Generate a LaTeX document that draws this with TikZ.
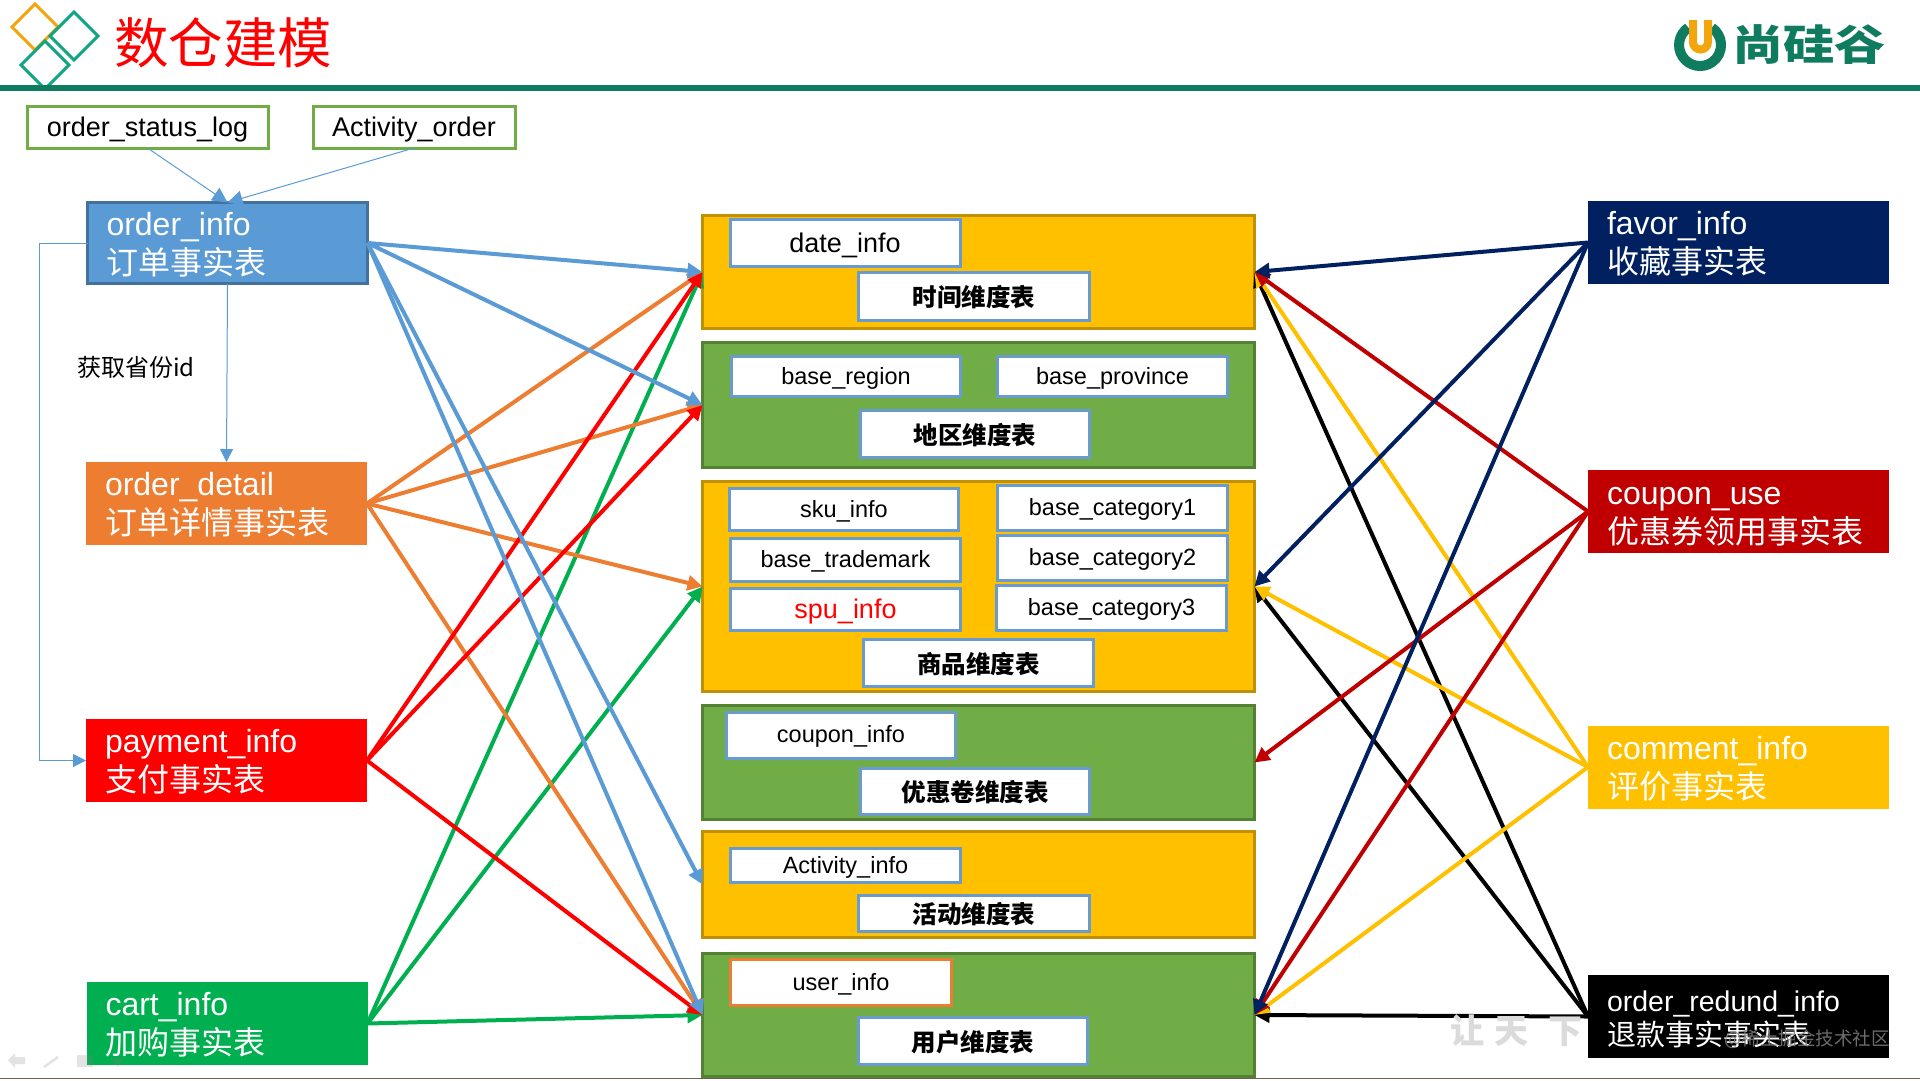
\documentclass[tikz,border=0pt]{standalone}
\usepackage{fontspec}
\setmainfont{Liberation Sans}
\newfontfamily\cjk{Noto Sans CJK SC}
\usetikzlibrary{arrows.meta}
\newcommand\toprule{\rule{0pt}{26pt}}
\definecolor{cTeal}{HTML}{0F7B5F}
\definecolor{cDia}{HTML}{13A583}
\definecolor{cOrg}{HTML}{F2A50C}
\definecolor{cBlue}{HTML}{5B9BD5}
\definecolor{cBlueD}{HTML}{41719C}
\definecolor{cOrange}{HTML}{ED7D31}
\definecolor{cRed}{HTML}{FF0000}
\definecolor{cGreen}{HTML}{00B050}
\definecolor{cNavy}{HTML}{002060}
\definecolor{cDRed}{HTML}{C00000}
\definecolor{cYel}{HTML}{FFC000}
\definecolor{cYelD}{HTML}{BF9000}
\definecolor{cLeaf}{HTML}{70AD47}
\definecolor{cLeafD}{HTML}{548235}
\definecolor{cBox}{HTML}{6A9BCF}
\tikzset{
  fact/.style={rectangle,outer sep=0pt,inner ysep=0pt,inner xsep=19pt,align=left,text=white,font=\fontsize{32}{39}\selectfont},
  yelgroup/.style={rectangle,outer sep=0pt,fill=cYel,draw=cYelD,line width=3pt},
  leafgroup/.style={rectangle,outer sep=0pt,fill=cLeaf,draw=cLeafD,line width=3pt},
  tbl/.style={rectangle,outer sep=0pt,inner sep=0pt,fill=white,draw=cBox,line width=3pt,text height=17pt,text depth=1.5pt,font=\fontsize{23.5}{27}\selectfont},
  bigtbl/.style={tbl,text height=20pt,text depth=2pt,font=\fontsize{27}{31}\selectfont},
  dimlabel/.style={rectangle,outer sep=0pt,inner sep=0pt,fill=white,draw=cBox,line width=3pt,text height=22pt,text depth=1.2pt,font=\cjk\bfseries\fontsize{24.5}{28}\selectfont},
  srcbox/.style={rectangle,outer sep=0pt,inner sep=0pt,fill=white,draw=cLeaf,line width=3pt,text height=20.5pt,text depth=1.2pt,font=\fontsize{27}{31}\selectfont},
  link/.style={line width=4pt,-{Triangle[length=15pt,width=15pt]}},
  thinlink/.style={line width=1pt,draw=cBlue,-{Triangle[length=15pt,width=15pt]}},
  dia/.style={line width=3pt,line join=miter},
}
\begin{document}
\begin{tikzpicture}[x=1pt,y=-1pt]
\useasboundingbox (0,0) rectangle (1920,1080);
\fill[white] (0,0) rectangle (1920,1080);

% header
\draw[dia,cOrg] (35,4) -- (58,27) -- (35,50) -- (12,27) -- cycle;
\draw[dia,cDia] (74,12) -- (98,36) -- (74,60) -- (50,36) -- cycle;
\draw[dia,cDia] (45,41) -- (69,65) -- (45,89) -- (21,65) -- cycle;
\fill[cTeal] (0,84.5) rectangle (1920,91);
\node[inner sep=0pt,text=cRed,font=\cjk\fontsize{54.5}{60}\selectfont] (title) at (223,43) {数仓建模};
\draw[cTeal,line width=10pt] (1688.3,27.6) arc[start angle=236,end angle=-56,radius=21];
\draw[cOrg,line width=8pt] (1693,20) -- (1693,42) arc[start angle=180,end angle=0,radius=7.5] -- (1708,20);
\node[inner sep=0pt,text=cTeal,xscale=1.22,font=\cjk\bfseries\fontsize{42}{48}\selectfont] (brand) at (1809,45) {尚硅谷};

% source tables
\node[srcbox,minimum width=241pt,minimum height=42pt] (slog) at (147.5,127) {order\_status\_log};
\node[srcbox,minimum width=202pt,minimum height=42pt] (aorder) at (414,127) {Activity\_order};

% fact tables left
\node[fact,fill=cBlue,draw=cBlueD,line width=3pt,minimum height=81pt,text width=242pt] (oinfo) at (227.5,243) {\toprule order\_info\\{\cjk 订单事实表}};
\node[fact,fill=cOrange,minimum height=83pt,text width=243pt] (odetail) at (226.5,503.5) {\toprule order\_detail\\{\cjk 订单详情事实表}};
\node[fact,fill=cRed,minimum height=83pt,text width=243pt] (pay) at (226.5,760.5) {\toprule payment\_info\\{\cjk 支付事实表}};
\node[fact,fill=cGreen,minimum height=83pt,text width=243pt] (cart) at (227,1023.5) {\toprule cart\_info\\{\cjk 加购事实表}};

% fact tables right
\node[fact,fill=cNavy,minimum height=83pt,text width=263pt] (favor) at (1738.5,242.5) {\toprule favor\_info\\{\cjk 收藏事实表}};
\node[fact,fill=cDRed,minimum height=83pt,text width=263pt] (coupon) at (1738.5,511.5) {\rule{0pt}{28pt}coupon\_use\\{\cjk 优惠券领用事实表}};
\node[fact,fill=cYel,minimum height=83pt,text width=263pt] (comment) at (1738.5,767) {\toprule comment\_info\\{\cjk 评价事实表}};
\node[fact,fill=black,minimum height=83pt,text width=263pt] (redund) at (1738.5,1016.5) {\toprule{\fontsize{28.5}{39}\selectfont order\_redund\_info}\\[-5pt]{\cjk\fontsize{29}{34}\selectfont 退款事实事实表}};

% dimension groups
\node[yelgroup,minimum width=552pt,minimum height=113pt] (g1) at (978.5,272) {};
\node[leafgroup,minimum width=552pt,minimum height=125pt] (g2) at (978.5,405) {};
\node[yelgroup,minimum width=552pt,minimum height=210pt] (g3) at (978.5,586.5) {};
\node[leafgroup,minimum width=552pt,minimum height=114pt] (g4) at (978.5,762.5) {};
\node[yelgroup,minimum width=552pt,minimum height=106pt] (g5) at (978.5,884.5) {};
\node[leafgroup,minimum width=552pt,minimum height=123pt] (g6) at (978.5,1015) {};

% tables within groups
\node[bigtbl,minimum width=230pt,minimum height=47pt] (dateinfo) at (845,243) {date\_info};
\node[dimlabel,minimum width=231pt,minimum height=48pt] (l1) at (974,296.5) {时间维度表};
\node[tbl,minimum width=229pt,minimum height=40pt] (bregion) at (846,376.5) {base\_region};
\node[tbl,minimum width=230pt,minimum height=40pt] (bprov) at (1112.5,376.5) {base\_province};
\node[dimlabel,minimum width=229pt,minimum height=47pt] (l2) at (975,434) {地区维度表};
\node[tbl,minimum width=229pt,minimum height=42pt] (sku) at (844,509.5) {sku\_info};
\node[tbl,minimum width=230pt,minimum height=43pt] (btm) at (845.5,560) {base\_trademark};
\node[bigtbl,text=cRed,minimum width=230pt,minimum height=42pt] (spu) at (845.5,609.5) {spu\_info};
\node[tbl,minimum width=230pt,minimum height=45pt] (cat1) at (1112.5,508) {base\_category1};
\node[tbl,minimum width=230pt,minimum height=45pt] (cat2) at (1112.5,558) {base\_category2};
\node[tbl,minimum width=230pt,minimum height=45pt] (cat3) at (1111.5,608) {base\_category3};
\node[dimlabel,minimum width=230pt,minimum height=47pt] (l3) at (978.5,663) {商品维度表};
\node[tbl,minimum width=229pt,minimum height=46pt] (cinfo) at (841,735) {coupon\_info};
\node[dimlabel,minimum width=229pt,minimum height=46pt] (l4) at (975,791.5) {优惠卷维度表};
\node[tbl,minimum width=230pt,minimum height=34pt] (ainfo) at (845.5,865.5) {Activity\_info};
\node[dimlabel,minimum width=231pt,minimum height=36pt] (l5) at (974,913.5) {活动维度表};
\node[tbl,draw=cOrange,minimum width=221pt,minimum height=46pt] (uinfo) at (841,982.5) {user\_info};
\node[dimlabel,minimum width=229pt,minimum height=47pt] (l6) at (973,1041) {用户维度表};

% thin connectors
\coordinate (lft) at (39,243);
\draw[thinlink] (slog.south) -- (oinfo.north);
\draw[thinlink] (aorder.south) -- (oinfo.north);
\draw[thinlink,-{Triangle[length=13pt,width=13pt]}] (oinfo.south) -- (odetail.north);
\draw[thinlink,-{Triangle[length=13pt,width=13pt]}] (oinfo.west) -- (lft) |- (pay.west);
\node[inner sep=0pt,font=\cjk\fontsize{24}{28}\selectfont] (prov) at (136,367) {获取省份id};

% left connectors
\draw[link,cGreen] (cart.east) -- (g1.west);
\draw[link,cGreen] (cart.east) -- (g3.west);
\draw[link,cGreen] (cart.east) -- (g6.west);
\draw[link,cOrange] (odetail.east) -- (g1.west);
\draw[link,cOrange] (odetail.east) -- (g2.west);
\draw[link,cOrange] (odetail.east) -- (g3.west);
\draw[link,cOrange] (odetail.east) -- (g6.west);
\draw[link,cRed] (pay.east) -- (g1.west);
\draw[link,cRed] (pay.east) -- (g2.west);
\draw[link,cRed] (pay.east) -- (g6.west);
\draw[link,cBlue] (oinfo.east) -- (g1.west);
\draw[link,cBlue] (oinfo.east) -- (g2.west);
\draw[link,cBlue] (oinfo.east) -- (g5.west);
\draw[link,cBlue] (oinfo.east) -- (g6.west);

% right connectors
\draw[link,black] (redund.west) -- (g1.east);
\draw[link,black] (redund.west) -- (g3.east);
\draw[link,black] (redund.west) -- (g6.east);
\draw[link,cYel] (comment.west) -- (g1.east);
\draw[link,cYel] (comment.west) -- (g3.east);
\draw[link,cYel] (comment.west) -- (g6.east);
\draw[link,cDRed] (coupon.west) -- (g1.east);
\draw[link,cDRed] (coupon.west) -- (g4.east);
\draw[link,cDRed] (coupon.west) -- (g6.east);
\draw[link,cNavy] (favor.west) -- (g1.east);
\draw[link,cNavy] (favor.west) -- (g3.east);
\draw[link,cNavy] (favor.west) -- (g6.east);

% bottom edge and overlays
\draw[line width=1.5pt,draw={rgb,255:red,110;green,95;blue,80}] (0,1078.5) -- (1920,1078.5);
\begin{scope}[opacity=.22,gray]
\fill (8,1060) -- (15,1053) -- (15,1057) -- (25,1057) -- (25,1064) -- (15,1064) -- (15,1068) -- cycle;
\draw[line width=2.5pt] (44,1067) -- (58,1057);
\fill (77,1055) rectangle (93,1067);
\fill (110,1058) -- (125,1058) -- (118,1067) -- cycle;
\end{scope}
\node[inner sep=0pt,text=gray!28,font=\cjk\bfseries\fontsize{34}{38}\selectfont] (mark) at (1516,1031) {让\hspace{10pt}天\hspace{20pt}下};
\node[inner sep=0pt,text=gray,opacity=.85,font=\cjk\fontsize{18.5}{22}\selectfont,anchor=east] (credit) at (1890,1039) {@稀土掘金技术社区};
\end{tikzpicture}
\end{document}
